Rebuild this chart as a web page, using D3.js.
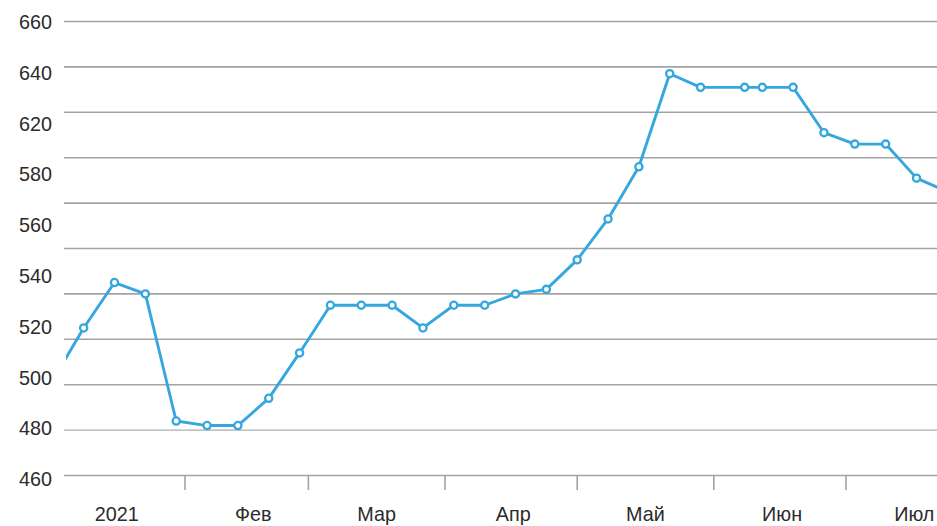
<!DOCTYPE html>
<html>
<head>
<meta charset="utf-8">
<script src="https://cdn.jsdelivr.net/npm/d3@7"></script>
<style>
  html, body { margin: 0; padding: 0; background: #fff; }
  svg { display: block; font-family: "Liberation Sans", Arial, sans-serif; }
</style>
</head>
<body>
<div id="chart"></div>
<script>
// данные (цена, еженедельно)
const dates = ["2021-01-02", "2021-01-09", "2021-01-16", "2021-01-23", "2021-01-30",
    "2021-02-06", "2021-02-13", "2021-02-20", "2021-02-27",
    "2021-03-06", "2021-03-13", "2021-03-20", "2021-03-27",
    "2021-04-03", "2021-04-10", "2021-04-17", "2021-04-24",
    "2021-05-01", "2021-05-08", "2021-05-15", "2021-05-22", "2021-05-29",
    "2021-06-08", "2021-06-12", "2021-06-19", "2021-06-26",
    "2021-07-03", "2021-07-10", "2021-07-17", "2021-07-24"];
const values = [502, 525, 545, 540, 484,
    482, 482, 494, 514,
    535, 535, 535, 525,
    535, 535, 540, 542,
    555, 573, 596, 637, 631,
    631, 631, 631, 611,
    606, 606, 591, 585];

const gridValues = [660, 640, 620, 600, 580, 560, 540, 520, 500, 480, 460];
const yLabels = ["660", "640", "620", "580", "560", "540", "520", "500", "480", "460"];
const monthLabels = ["2021", "Фев", "Мар", "Апр", "Май", "Июн", "Июл"];

const W = 937, H = 526;
const parse = d3.timeParse("%Y-%m-%d");
const data = dates.map((d, i) => ({ date: parse(d), value: values[i] }));

const svg = d3.select("#chart").append("svg")
    .attr("width", W)
    .attr("height", H);

// шкалы
const x = d3.scaleTime()
    .domain([new Date(2021, 0, 1), new Date(2021, 6, 1)])
    .range([48.4, 846]);
const y = d3.scaleLinear()
    .domain([460, 660])
    .range([475.5, 21.5]);
const yLab = d3.scalePoint()
    .domain(yLabels)
    .range([22, 479]);

const plotLeft = 64;

// сетка
svg.append("g")
    .selectAll("line")
    .data(gridValues)
    .join("line")
    .attr("x1", plotLeft)
    .attr("x2", W)
    .attr("y1", d => y(d))
    .attr("y2", d => y(d))
    .attr("stroke", d => d === 480 ? "#c4c4c4" : "#a3a3a3")
    .attr("stroke-width", 1.6);

// подписи оси Y
svg.append("g")
    .selectAll("text")
    .data(yLabels)
    .join("text")
    .attr("x", 52)
    .attr("y", d => yLab(d))
    .attr("dy", "0.36em")
    .attr("text-anchor", "end")
    .attr("font-size", 19.8)
    .attr("fill", "#2b2b2b")
    .text(d => d);

// ось X: риски на границах месяцев
const monthStarts = d3.timeMonth.range(new Date(2021, 1, 1), new Date(2021, 6, 2));
svg.append("g")
    .selectAll("line")
    .data(monthStarts)
    .join("line")
    .attr("x1", d => x(d))
    .attr("x2", d => x(d))
    .attr("y1", y(460))
    .attr("y2", 490)
    .attr("stroke", "#a3a3a3")
    .attr("stroke-width", 1.6);

svg.append("g")
    .selectAll("text")
    .data(monthLabels)
    .join("text")
    .attr("x", (d, i) => x(new Date(2021, i, 16, 12)))
    .attr("y", 521)
    .attr("text-anchor", "middle")
    .attr("font-size", 19.8)
    .attr("fill", "#2b2b2b")
    .text(d => d);

// линия
svg.append("defs")
    .append("clipPath")
    .attr("id", "clip")
    .append("rect")
    .attr("x", 66)
    .attr("y", 0)
    .attr("width", W - 66)
    .attr("height", H);

const g = svg.append("g").attr("clip-path", "url(#clip)");

const line = d3.line()
    .x(d => x(d.date))
    .y(d => y(d.value));

g.append("path")
    .datum(data)
    .attr("d", line)
    .attr("fill", "none")
    .attr("stroke", "#36a6de")
    .attr("stroke-width", 2.9)
    .attr("stroke-linejoin", "round");

g.selectAll(".point")
    .data(data)
    .join("circle")
    .attr("class", "point")
    .attr("cx", d => x(d.date))
    .attr("cy", d => y(d.value))
    .attr("r", 3.6)
    .attr("fill", "#fff")
    .attr("stroke", "#36a6de")
    .attr("stroke-width", 2.3);
</script>
</body>
</html>
